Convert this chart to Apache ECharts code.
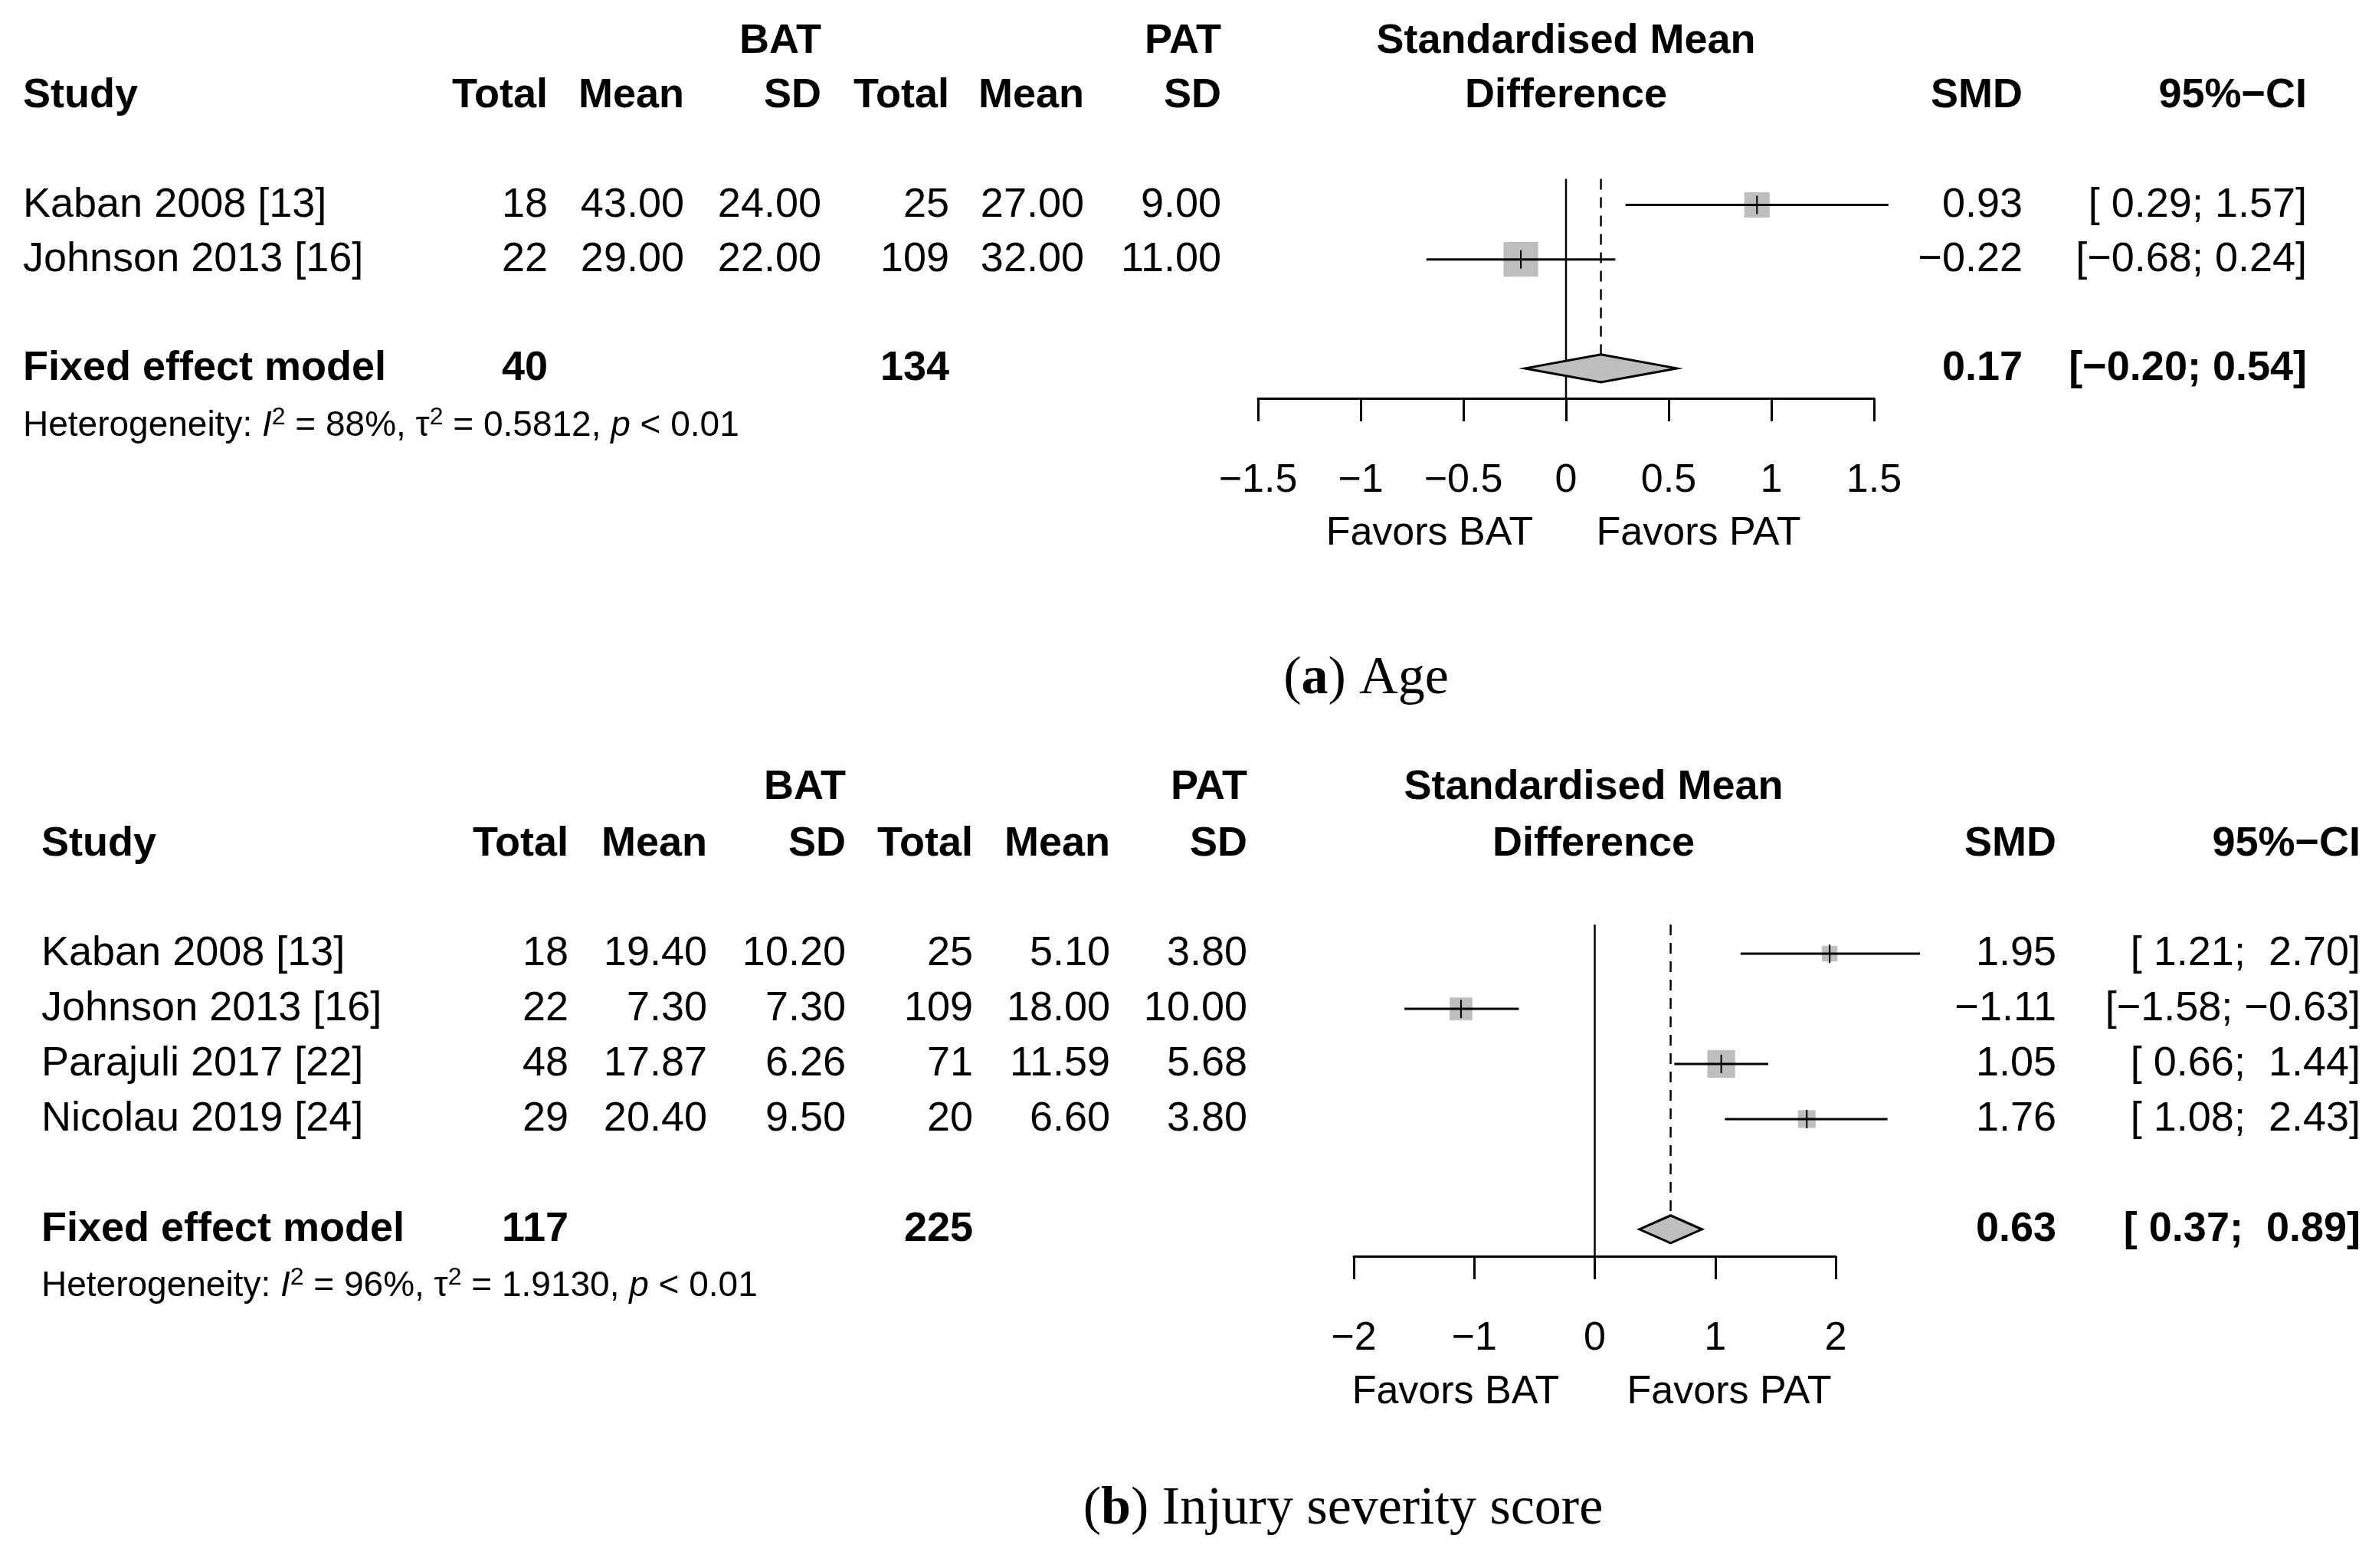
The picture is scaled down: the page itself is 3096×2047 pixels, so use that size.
<!DOCTYPE html>
<html>
<head>
<meta charset="utf-8" />
<script src="https://cdn.jsdelivr.net/npm/echarts@6/dist/echarts.min.js"></script>
<style>html,body{margin:0;padding:0;background:#fff;}</style>
</head>
<body>
<div id="main" style="width:3096px;height:2047px;"></div>
<script type="text/javascript">
// panel a: Age
var studiesA = ['Kaban 2008 [13]', 'Johnson 2013 [16]'];
var batTotalA = ['18', '22'], batMeanA = ['43.00', '29.00'], batSdA = ['24.00', '22.00'];
var patTotalA = ['25', '109'], patMeanA = ['27.00', '32.00'], patSdA = ['9.00', '11.00'];
var smdA = [0.93, -0.22], loA = [0.29, -0.68], hiA = [1.57, 0.24];
var weightA = [35, 65];
var smdTextA = ['0.93', '\u22120.22'];
var ciTextA = ['[ 0.29; 1.57]', '[\u22120.68; 0.24]'];
var fixedA = {total1: '40', total2: '134', smd: 0.17, lo: -0.20, hi: 0.54, smdText: '0.17', ciText: '[\u22120.20; 0.54]'};
var hetA = ['88%', '0.5812', '< 0.01'];
var ticksA = [-1.5, -1, -0.5, 0, 0.5, 1, 1.5];

// panel b: Injury severity score
var studiesB = ['Kaban 2008 [13]', 'Johnson 2013 [16]', 'Parajuli 2017 [22]', 'Nicolau 2019 [24]'];
var batTotalB = ['18', '22', '48', '29'], batMeanB = ['19.40', '7.30', '17.87', '20.40'], batSdB = ['10.20', '7.30', '6.26', '9.50'];
var patTotalB = ['25', '109', '71', '20'], patMeanB = ['5.10', '18.00', '11.59', '6.60'], patSdB = ['3.80', '10.00', '5.68', '3.80'];
var smdB = [1.95, -1.11, 1.05, 1.76], loB = [1.21, -1.58, 0.66, 1.08], hiB = [2.70, -0.63, 1.44, 2.43];
var weightB = [13, 28, 42, 17];
var smdTextB = ['1.95', '\u22121.11', '1.05', '1.76'];
var ciTextB = ['[ 1.21;  2.70]', '[\u22121.58; \u22120.63]', '[ 0.66;  1.44]', '[ 1.08;  2.43]'];
var fixedB = {total1: '117', total2: '225', smd: 0.63, lo: 0.37, hi: 0.89, smdText: '0.63', ciText: '[ 0.37;  0.89]'};
var hetB = ['96%', '1.9130', '< 0.01'];
var ticksB = [-2, -1, 0, 1, 2];

var F = '"Liberation Sans", Arial, sans-serif';
var FS = 54;

var myChart = echarts.init(document.getElementById('main'));
var graphic = [];

function txt(s, x, y, align, bold, size, extra) {
	var st = {text: s, x: x, y: y, textAlign: align, textVerticalAlign: 'middle',
		font: (bold ? 'bold ' : '') + (size || FS) + 'px ' + F, fill: '#000'};
	if (extra) for (var k in extra) st[k] = extra[k];
	graphic.push({type: 'text', silent: true, style: st});
}

// columns: study left, 6 right-aligned numeric columns, smd right, ci right
function table(P) {
	var c = P.cols;
	txt(P.group1, c[2], P.h1, 'right', true);
	txt(P.group2, c[5], P.h1, 'right', true);
	txt('Standardised Mean', P.mid, P.h1, 'center', true);
	txt('Study', P.left, P.h2, 'left', true);
	var hd = ['Total', 'Mean', 'SD', 'Total', 'Mean', 'SD'];
	for (var i = 0; i < 6; i++) txt(hd[i], c[i], P.h2, 'right', true);
	txt('Difference', P.mid, P.h2, 'center', true);
	txt('SMD', P.smdX, P.h2, 'right', true);
	txt('95%\u2212CI', P.ciX, P.h2, 'right', true);
	for (var r = 0; r < P.studies.length; r++) {
		var y = P.rowY(r);
		txt(P.studies[r], P.left, y, 'left');
		var vals = [P.bt[r], P.bm[r], P.bs[r], P.pt[r], P.pm[r], P.ps[r]];
		for (var j = 0; j < 6; j++) txt(vals[j], c[j], y, 'right');
		txt(P.smdText[r], P.smdX, y, 'right');
		txt(P.ciText[r], P.ciX, y, 'right', false, FS, {whiteSpace: 'pre'});
	}
	var fy = P.rowY(P.fixedRow);
	txt('Fixed effect model', P.left, fy, 'left', true);
	txt(P.fixed.total1, c[0], fy, 'right', true);
	txt(P.fixed.total2, c[3], fy, 'right', true);
	txt(P.fixed.smdText, P.smdX, fy, 'right', true);
	txt(P.fixed.ciText, P.ciX, fy, 'right', true);
	txt('Heterogeneity: {i|I}{sup|2} = ' + P.het[0] + ', \u03c4{sup|2} = ' + P.het[1] + ', {i|p} ' + P.het[2],
		P.left, P.hetY, 'left', false, 46, {rich: {
			i: {font: 'italic 46px ' + F, fill: '#000'},
			sup: {font: '32px ' + F, fill: '#000', padding: [0, 0, 22, 0]}
		}});
	txt('Favors BAT', P.fav1, P.favY, 'center', false, 52);
	txt('Favors PAT', P.fav2, P.favY, 'center', false, 52);
	txt('({b|' + P.letter + '}) ' + P.caption, P.capX, P.capY, 'center', false, 70, {
		font: '70px "Liberation Serif", serif',
		rich: {b: {font: 'bold 70px "Liberation Serif", serif', fill: '#000'}}
	});
}

table({group1: 'BAT', group2: 'PAT', h1: 54, h2: 125, left: 30, mid: 2044,
	cols: [715, 893, 1072, 1239, 1415, 1594], smdX: 2640, ciX: 3011,
	studies: studiesA, bt: batTotalA, bm: batMeanA, bs: batSdA, pt: patTotalA, pm: patMeanA, ps: patSdA,
	smdText: smdTextA, ciText: ciTextA, fixed: fixedA, fixedRow: 3,
	rowY: function (r) { return 268 + r * 71.1; }, het: hetA, hetY: 556,
	fav1: 1866, fav2: 2217, favY: 697, letter: 'a', caption: 'Age', capX: 1783, capY: 887});
table({group1: 'BAT', group2: 'PAT', h1: 1028, h2: 1102, left: 54, mid: 2080,
	cols: [742, 923, 1104, 1270, 1449, 1628], smdX: 2684, ciX: 3081,
	studies: studiesB, bt: batTotalB, bm: batMeanB, bs: batSdB, pt: patTotalB, pm: patMeanB, ps: patSdB,
	smdText: smdTextB, ciText: ciTextB, fixed: fixedB, fixedRow: 5,
	rowY: function (r) { return 1245 + r * 72; }, het: hetB, hetY: 1679,
	fav1: 1900, fav2: 2257, favY: 1818, letter: 'b', caption: 'Injury severity score', capX: 1753, capY: 1971});

function studyData(smd, lo, hi, w) {
	return smd.map(function (v, i) { return [v, lo[i], hi[i], i, w[i]]; });
}

function renderStudy(params, api) {
	var c = api.coord([api.value(0), api.value(3)]);
	var l = api.coord([api.value(1), api.value(3)]);
	var h = api.coord([api.value(2), api.value(3)]);
	var s = 5.6 * Math.sqrt(api.value(4));
	return {type: 'group', children: [
		{type: 'rect', shape: {x: c[0] - s / 2, y: c[1] - s / 2, width: s, height: s}, style: {fill: '#bebebe'}},
		{type: 'line', shape: {x1: l[0], y1: l[1], x2: h[0], y2: h[1]}, style: {stroke: '#000', lineWidth: 3}},
		{type: 'line', shape: {x1: c[0], y1: c[1] - 12, x2: c[0], y2: c[1] + 12}, style: {stroke: '#000', lineWidth: 2}}
	]};
}

function fixedSeries(idx, f, row, yMin, yMax) {
	return {type: 'custom', xAxisIndex: idx, yAxisIndex: idx, clip: false, silent: true,
		data: [[f.smd, f.lo, f.hi, row, yMin, yMax]],
		renderItem: function (params, api) {
			var c = api.coord([api.value(0), api.value(3)]);
			var l = api.coord([api.value(1), api.value(3)]);
			var h = api.coord([api.value(2), api.value(3)]);
			var zt = api.coord([0, api.value(4)]);
			var zb = api.coord([0, api.value(5)]);
			var dt = api.coord([api.value(0), api.value(4)]);
			return {type: 'group', children: [
				{type: 'line', shape: {x1: zt[0], y1: zt[1], x2: zb[0], y2: zb[1]}, style: {stroke: '#000', lineWidth: 2.5}},
				{type: 'line', shape: {x1: dt[0], y1: dt[1], x2: c[0], y2: c[1] - 18}, style: {stroke: '#000', lineWidth: 2.5, lineDash: [14, 10]}},
				{type: 'polygon', shape: {points: [[l[0], c[1]], [c[0], c[1] - 18], [h[0], c[1]], [c[0], c[1] + 18]]},
					style: {fill: '#bebebe', stroke: '#000', lineWidth: 3}}
			]};
		}};
}

function xAxis(idx, min, max, interval, ticks) {
	return {type: 'value', gridIndex: idx, min: min, max: max, interval: interval,
		axisLine: {show: true, onZero: false, lineStyle: {color: '#000', width: 3}},
		axisTick: {show: true, length: 30, lineStyle: {color: '#000', width: 3}},
		splitLine: {show: false},
		axisLabel: {margin: 82, fontSize: 52, fontFamily: F, color: '#000',
			formatter: function (v) { return ticks.indexOf(v) < 0 ? '' : String(v).replace('-', '\u2212'); }}};
}

function yAxis(idx, min, max) {
	return {type: 'value', gridIndex: idx, min: min, max: max, inverse: true, show: false};
}

myChart.setOption({
	backgroundColor: '#fff',
	animation: false,
	grid: [
		{left: 1642, width: 804, top: 232, height: 288},
		{left: 1767, width: 629, top: 1207, height: 433}
	],
	xAxis: [xAxis(0, -1.5, 1.5, 0.5, ticksA), xAxis(1, -2, 2, 1, ticksB)],
	yAxis: [yAxis(0, -0.5, 3.55), yAxis(1, -0.53, 5.49)],
	graphic: graphic,
	series: [
		fixedSeries(0, fixedA, 3, -0.48, 3.55),
		{type: 'custom', xAxisIndex: 0, yAxisIndex: 0, clip: false, silent: true,
			data: studyData(smdA, loA, hiA, weightA), renderItem: renderStudy},
		fixedSeries(1, fixedB, 5, -0.53, 5.49),
		{type: 'custom', xAxisIndex: 1, yAxisIndex: 1, clip: false, silent: true,
			data: studyData(smdB, loB, hiB, weightB), renderItem: renderStudy}
	]
});
</script>
</body>
</html>
